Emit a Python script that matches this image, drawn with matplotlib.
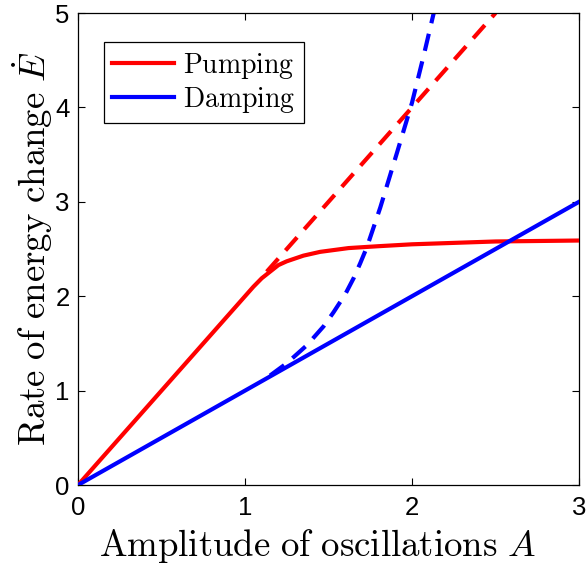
"""Pumping vs. damping energy rates as a function of oscillation amplitude."""

import matplotlib
matplotlib.use("Agg")
import matplotlib.pyplot as plt

RED = "#ff0000"
BLUE = "#0000ff"

# Pumping rate: linear growth, then saturation
pump_amp = [0.0, 1.0, 1.05, 1.1, 1.15, 1.2, 1.25, 1.35, 1.45, 1.62, 1.8, 2.0, 2.5, 3.0]
pump_rate = [0.0, 2.0, 2.1, 2.19, 2.26, 2.33, 2.37, 2.43, 2.47, 2.51, 2.53, 2.55, 2.58, 2.59]

# Pumping without saturation (dashed continuation)
pump_lin_amp = [1.13, 2.5]
pump_lin_rate = [2.26, 5.0]

# Damping rate (linear)
damp_amp = [0.0, 3.0]
damp_rate = [0.0, 3.0]

# Damping with nonlinear growth (dashed)
damp_nl_amp = [1.15, 1.25, 1.37, 1.47, 1.53, 1.6, 1.65, 1.69, 1.73, 1.81, 1.91, 2.0, 2.07, 2.13]
damp_nl_rate = [1.16, 1.29, 1.48, 1.68, 1.83, 2.02, 2.19, 2.35, 2.52, 2.94, 3.52, 4.05, 4.55, 5.0]

plt.rcParams["mathtext.fontset"] = "cm"
plt.rcParams["font.family"] = ["Liberation Sans", "DejaVu Sans"]

fig = plt.figure(figsize=(5.87, 5.69), dpi=100)
ax = fig.add_axes([0.1329, 0.1476, 0.8535, 0.8295])

lw = 3.0
ax.plot(pump_amp, pump_rate, color=RED, lw=lw, label=r"$\mathrm{Pumping}$", zorder=3)
ax.plot(damp_amp, damp_rate, color=BLUE, lw=lw, label=r"$\mathrm{Damping}$", zorder=3)
ax.plot(pump_lin_amp, pump_lin_rate, color=RED, lw=lw, dashes=(4.2, 2.6), zorder=2)
ax.plot(damp_nl_amp, damp_nl_rate, color=BLUE, lw=lw, dashes=(4.2, 2.6), zorder=2)

ax.set_xlim(0, 3)
ax.set_ylim(0, 5)
ax.set_xticks([0, 1, 2, 3])
ax.set_yticks([0, 1, 2, 3, 4, 5])
ax.tick_params(direction="in", top=True, right=True, length=5, width=0.8,
               labelsize=18.5)
ax.tick_params(axis="x", pad=8)
ax.tick_params(axis="y", pad=6)

ax.set_xlabel(r"$\mathrm{Amplitude\ of\ oscillations}\ A$", fontsize=26.5, labelpad=5)
ax.xaxis.label.set_x(0.478)
ax.set_ylabel(r"$\mathrm{Rate\ of\ energy\ change}\ \dot{E}$", fontsize=26.5, labelpad=0)

for sp in ax.spines.values():
    sp.set_linewidth(0.9)

leg = ax.legend(loc="upper left", bbox_to_anchor=(0.052, 0.938), fontsize=20,
                frameon=True, fancybox=False, edgecolor="black", framealpha=1,
                handlelength=2.2, handletextpad=0.35, borderpad=0.3,
                labelspacing=0.15, borderaxespad=0)
leg.get_frame().set_linewidth(0.9)

fig.savefig("out.png", dpi=100, facecolor="white")
